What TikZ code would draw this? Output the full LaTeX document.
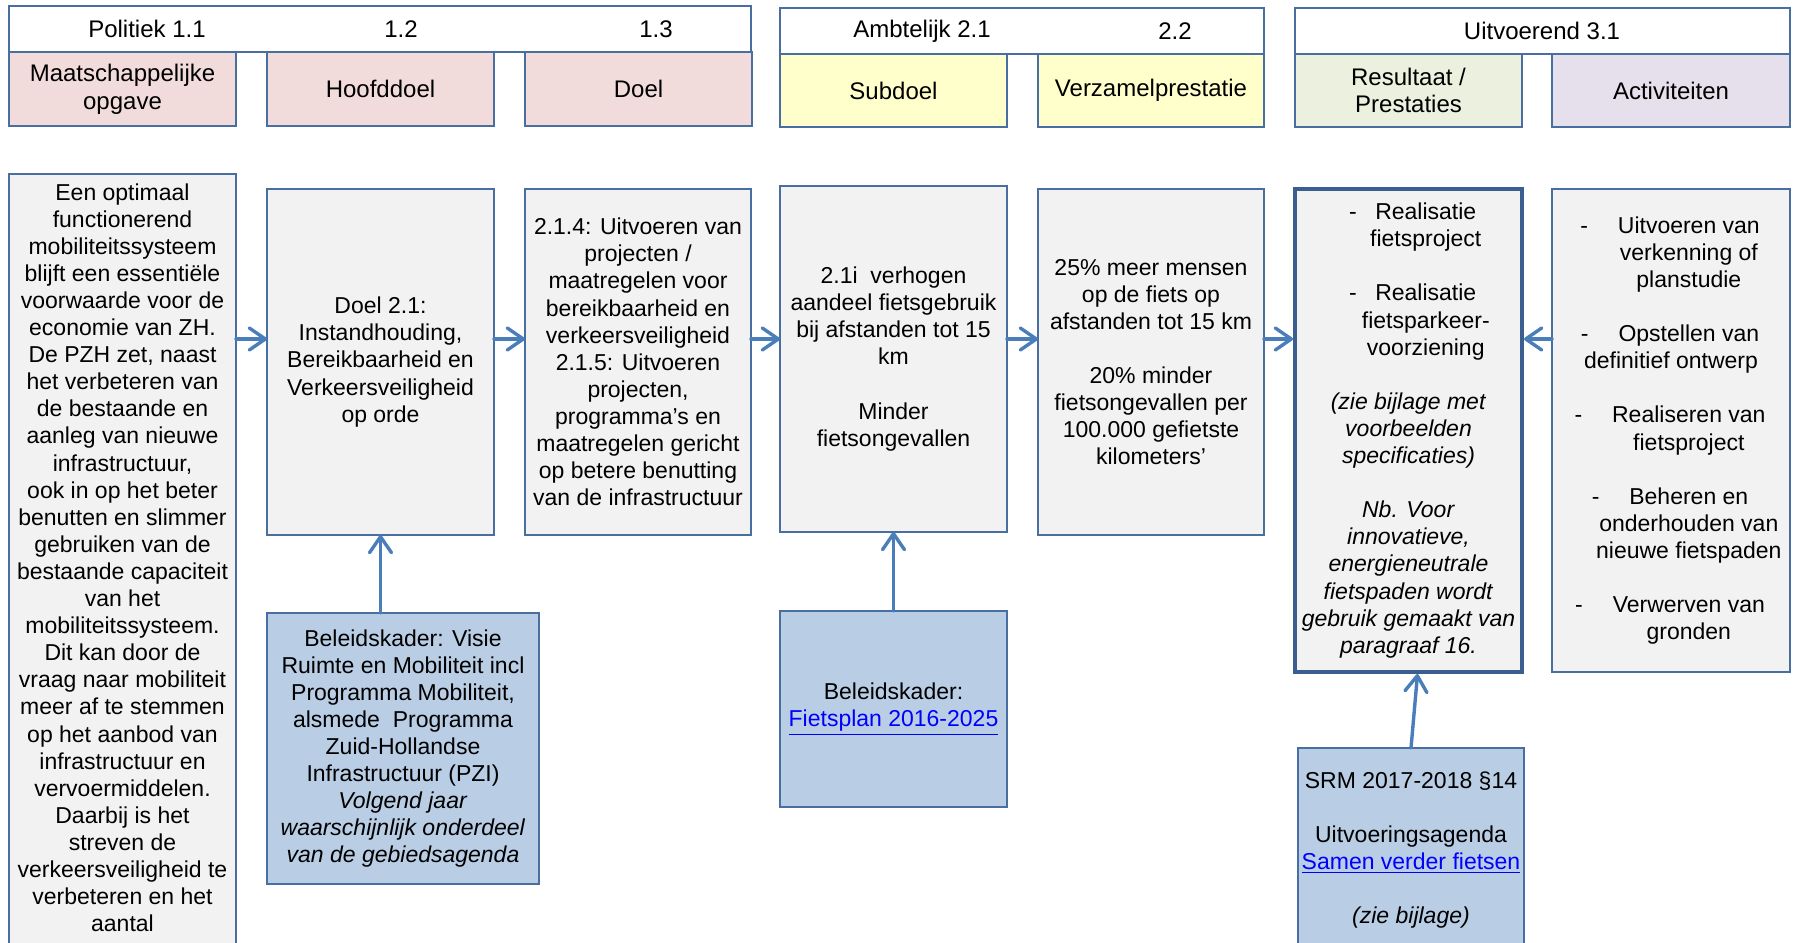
\documentclass[tikz,border=0pt]{standalone}
\usepackage{fontspec}
\setmainfont{Liberation Sans}
\usetikzlibrary{arrows.meta}
\definecolor{rand}{RGB}{72,110,162}
\definecolor{randdonker}{RGB}{58,94,142}
\definecolor{pijlblauw}{RGB}{74,126,187}
\definecolor{roze}{RGB}{242,220,219}
\definecolor{geel}{RGB}{255,255,204}
\definecolor{groen}{RGB}{235,241,222}
\definecolor{paars}{RGB}{229,224,236}
\definecolor{grijs}{RGB}{242,242,242}
\definecolor{lichtblauw}{RGB}{185,205,229}
\definecolor{linkblauw}{RGB}{0,0,255}
\newcommand{\linktekst}[1]{\textcolor{linkblauw}{\underline{#1}}}
\newcommand{\streep}[2]{\hspace*{#1}\llap{-\hspace{#2}}}
\tikzset{
  vak/.style={draw=rand, line width=0.9pt, anchor=north west, outer sep=0pt, inner sep=2pt, align=center, font=\fontsize{11.5}{13.55}\selectfont},
  kop/.style={vak, fill=white, minimum height=23pt},
  soort/.style={vak, minimum width=113.5pt, minimum height=37pt, font=\fontsize{12}{13.8}\selectfont},
  stap/.style={vak, fill=grijs, minimum width=113.5pt, minimum height=173pt},
  kader/.style={vak, fill=lichtblauw},
  koptekst/.style={inner sep=0pt, font=\fontsize{12}{13.8}\selectfont},
  tekst/.style={inner sep=0pt, align=center, font=\fontsize{11.5}{13.55}\selectfont},
  pijl/.style={draw=pijlblauw, line width=1.7pt, line cap=round, -{Straight Barb[length=8pt,width=11pt,round]}}
}
\begin{document}
\begin{tikzpicture}[x=0.5pt, y=-0.5pt]
    \useasboundingbox (0,0) rectangle (1797,942);
    \clip (0,0) rectangle (1797,942);

    \node[kop, minimum width=371pt] (kop1) at (9,6) {};
    \node[kop, minimum width=242pt] (kop2) at (780,8) {};
    \node[kop, minimum width=247.5pt] (kop3) at (1295,8) {};

    \node[koptekst] (politiek) at (147,29) {Politiek 1.1};
    \node[koptekst] (nr12) at (401,29) {1.2};
    \node[koptekst] (nr13) at (656,29) {1.3};
    \node[koptekst] (ambtelijk) at (922,31) {Ambtelijk 2.1};
    \node[koptekst] (nr22) at (1175,31) {2.2};
    \node[koptekst] (uitvoerend) at (1542,31) {Uitvoerend 3.1};

    \node[soort, fill=roze] (maatschappelijk) at (9,52) {Maatschappelijke\\opgave};
    \node[soort, fill=roze] (kophoofddoel) at (267,52) {Hoofddoel};
    \node[soort, fill=roze] (kopdoel) at (525,52) {Doel};
    \node[soort, fill=geel, minimum height=36.5pt] (kopsubdoel) at (780,54) {Subdoel};
    \node[soort, fill=geel, minimum height=36.5pt, minimum width=113pt] (kopverzamel) at (1038,54) {Verzamelprestatie};
    \node[soort, fill=groen, minimum height=36.5pt] (kopresultaat) at (1295,54) {Resultaat /\\Prestaties};
    \node[soort, fill=paars, minimum height=36.5pt, minimum width=119pt] (kopactiviteiten) at (1552,54) {Activiteiten};

    \coordinate (pijlrij) at (0,339);

    \node[stap, minimum height=400pt] (opgave) at (9,174) {};
    \node[tekst, anchor=north] (opgavetekst) at (122.5,183) {Een optimaal\\functionerend\\mobiliteitssysteem\\blijft een essentiële\\voorwaarde voor de\\economie van ZH.\\De PZH zet, naast\\het verbeteren van\\de bestaande en\\aanleg van nieuwe\\infrastructuur,\\ ook in op het beter\\benutten en slimmer\\gebruiken van de\\bestaande capaciteit\\van het\\mobiliteitssysteem.\\Dit kan door de\\vraag naar mobiliteit\\meer af te stemmen\\op het aanbod van\\infrastructuur en\\vervoermiddelen.\\Daarbij is het\\streven de\\verkeersveiligheid te\\verbeteren en het\\aantal};

    \node[stap] (hoofddoel) at (267,189) {Doel 2.1:\\Instandhouding,\\Bereikbaarheid en\\Verkeersveiligheid\\op orde};
    \node[stap, minimum width=113pt] (doel) at (525,189) {2.1.4: Uitvoeren van\\projecten /\\maatregelen voor\\bereikbaarheid en\\verkeersveiligheid\\2.1.5: Uitvoeren\\projecten,\\programma’s en\\maatregelen gericht\\op betere benutting\\van de infrastructuur};
    \node[stap] (subdoel) at (780,186) {2.1i\ \ verhogen\\aandeel fietsgebruik\\bij afstanden tot 15\\km\\[13.55pt]Minder\\fietsongevallen};
    \node[stap, minimum width=113pt] (verzamel) at (1038,189) {25\% meer mensen\\op de fiets op\\afstanden tot 15 km\\[13.55pt]20\% minder\\fietsongevallen per\\100.000 gefietste\\kilometers’};
    \node[stap, minimum height=241.5pt, draw=randdonker, line width=2.4pt] (resultaat) at (1295,189) {\streep{1.5em}{0.8em}Realisatie\\\hspace*{1.5em}fietsproject\\[13.55pt]\streep{1.5em}{0.8em}Realisatie\\\hspace*{1.5em}fietsparkeer-\\\hspace*{1.5em}voorziening\\[13.55pt]\textit{(zie bijlage met}\\\textit{voorbeelden}\\\textit{specificaties)}\\[13.55pt]\textit{Nb. Voor}\\\textit{innovatieve,}\\\textit{energieneutrale}\\\textit{fietspaden wordt}\\\textit{gebruik gemaakt van}\\\textit{paragraaf 16.}};
    \node[stap, minimum height=241.5pt, minimum width=119pt] (activiteiten) at (1552,189) {\streep{1.55em}{1.3em}Uitvoeren van\\\hspace*{1.55em}verkenning of\\\hspace*{1.55em}planstudie\\[13.55pt]\streep{1.55em}{1.3em}Opstellen van\\definitief ontwerp\\[13.55pt]\streep{1.55em}{1.3em}Realiseren van\\\hspace*{1.55em}fietsproject\\[13.55pt]\streep{1.55em}{1.3em}Beheren en\\\hspace*{1.55em}onderhouden van\\\hspace*{1.55em}nieuwe fietspaden\\[13.55pt]\streep{1.55em}{1.3em}Verwerven van\\\hspace*{1.55em}gronden};

    \node[kader, minimum width=136pt, minimum height=135.5pt] (visie) at (267,613) {Beleidskader: Visie\\Ruimte en Mobiliteit incl\\Programma Mobiliteit,\\alsmede\ \ Programma\\Zuid-Hollandse\\Infrastructuur (PZI)\\\textit{Volgend jaar}\\\textit{waarschijnlijk onderdeel}\\\textit{van de gebiedsagenda}};
    \node[kader, minimum width=113.5pt, minimum height=98pt] (fietsplan) at (780,611) {Beleidskader:\\\linktekst{Fietsplan 2016-2025}};
    \node[kader, minimum width=113pt, minimum height=120pt] (srm) at (1298,748) {};
    \node[tekst, anchor=north] (srmtekst) at (1411,771) {SRM 2017-2018 §14\\[13.55pt]Uitvoeringsagenda\\\linktekst{Samen verder fietsen}\\[13.55pt]\textit{(zie bijlage)}};

    \draw[pijl] (opgave.east |- pijlrij) -- (hoofddoel.west |- pijlrij);
    \draw[pijl] (hoofddoel.east |- pijlrij) -- (doel.west |- pijlrij);
    \draw[pijl] (doel.east |- pijlrij) -- (subdoel.west |- pijlrij);
    \draw[pijl] (subdoel.east |- pijlrij) -- (verzamel.west |- pijlrij);
    \draw[pijl] (verzamel.east |- pijlrij) -- ([xshift=-1pt]resultaat.west |- pijlrij);
    \draw[pijl] (activiteiten.west |- pijlrij) -- ([xshift=1pt]resultaat.east |- pijlrij);

    \draw[pijl] (visie.north -| hoofddoel.south) -- (hoofddoel.south);
    \draw[pijl] (fietsplan.north) -- (subdoel.south);
    \draw[pijl] (srm.north) -- ([xshift=4.5pt,yshift=-1pt]resultaat.south);
\end{tikzpicture}
\end{document}
